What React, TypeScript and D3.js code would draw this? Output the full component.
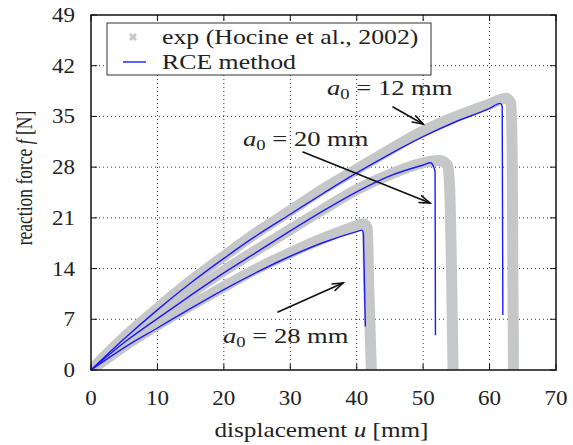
import React from "react";
import * as d3 from "d3";

const xTicks = [0, 10, 20, 30, 40, 50, 60, 70];
const yTicks = [0, 7, 14, 21, 28, 35, 42, 49];

// RCE method (blue) — displacement u [mm], force f [N]
const rce12U = [0, 5, 10, 15, 20, 25, 30, 35, 40, 45, 50, 55, 60, 61.6, 61.9, 62.0];
const rce12F = [0, 4.3, 8.3, 12.0, 15.4, 18.6, 21.5, 24.4, 27.2, 29.8, 32.2, 34.3, 36.1, 36.8, 36.4, 7.6];
const rce20U = [0, 5, 10, 15, 20, 25, 30, 35, 40, 45, 50, 51.1, 51.6, 51.8, 51.85];
const rce20F = [0, 3.8, 7.1, 10.3, 13.4, 16.3, 19.2, 22.0, 24.6, 26.8, 28.3, 28.6, 28.0, 27.3, 4.8];
const rce28U = [0, 5, 10, 15, 20, 25, 30, 35, 40, 40.8, 41.0, 41.05, 41.3];
const rce28F = [0, 3.1, 5.8, 8.5, 11.1, 13.5, 15.7, 17.6, 19.1, 19.3, 18.9, 17.0, 6.0];

// Experiment (gray)
const exp12U = [0, 5, 10, 15, 20, 25, 30, 35, 40, 45, 50, 55, 60, 62.5, 63.2, 63.4, 63.5, 63.6];
const exp12F = [0, 4.5, 8.5, 12.3, 15.7, 19.0, 22.0, 25.0, 27.7, 30.4, 33.0, 35.0, 36.7, 37.5, 36.8, 30, 15, 0];
const exp20U = [0, 5, 10, 15, 20, 25, 30, 35, 40, 45, 50, 52.5, 53.7, 54.0, 54.3, 54.5];
const exp20F = [0, 3.9, 7.3, 10.6, 13.7, 16.6, 19.4, 22.2, 24.9, 27.0, 28.6, 28.9, 28.2, 25, 12, 0];
const exp28U = [0, 5, 10, 15, 20, 25, 30, 35, 40, 41.0, 41.6, 41.8, 42.2];
const exp28F = [0, 3.3, 6.2, 8.9, 11.5, 14.0, 16.2, 18.2, 19.9, 20.2, 19.6, 12, 0];

const W = 573, H = 445;
const L = 91, R = 556, T = 15, B = 370;
const FONT = "'Liberation Serif', 'Times New Roman', serif";
const FS = 20;
const TXT = "#222";

const x = d3.scaleLinear().domain([0, 70]).range([L, R]);
const y = d3.scaleLinear().domain([0, 49]).range([B, T]);

const line = d3.line<[number, number]>().x(d => x(d[0])).y(d => y(d[1])).curve(d3.curveMonotoneX);
const zip = (u: number[], f: number[]) => u.map((v, i) => [v, f[i]] as [number, number]);

function Txt({ x0, y0, k, anchor, size, children }: any) {
  return (
    <text transform={`translate(${x0},${y0}) scale(${k},1)`} textAnchor={anchor || "start"}
      fontFamily={FONT} fontSize={size || FS} fill={TXT}>
      {children}
    </text>
  );
}

function Arrow({ x1, y1, x2, y2 }: { x1: number; y1: number; x2: number; y2: number }) {
  const a = Math.atan2(y2 - y1, x2 - x1);
  const hl = 11, ha = 0.33;
  const p1 = [x2 - hl * Math.cos(a - ha), y2 - hl * Math.sin(a - ha)];
  const p2 = [x2 - hl * Math.cos(a + ha), y2 - hl * Math.sin(a + ha)];
  return (
    <g stroke="#111" strokeWidth={1.6} fill="none" strokeLinecap="round">
      <line x1={x1} y1={y1} x2={x2} y2={y2} />
      <polyline points={`${p1[0]},${p1[1]} ${x2},${y2} ${p2[0]},${p2[1]}`} />
    </g>
  );
}

function Label({ x0, y0, val }: { x0: number; y0: number; val: string }) {
  return (
    <Txt x0={x0} y0={y0} k={1.33}>
      <tspan fontStyle="italic">a</tspan>
      <tspan fontSize={14} dy={4}>0</tspan>
      <tspan dy={-4}>{` = ${val} mm`}</tspan>
    </Txt>
  );
}

export default function App() {
  const grays = [zip(exp12U, exp12F), zip(exp20U, exp20F), zip(exp28U, exp28F)];
  const blues = [zip(rce12U, rce12F), zip(rce20U, rce20F), zip(rce28U, rce28F)];
  return (
    <svg width={W} height={H} style={{ position: "absolute", left: 0, top: 0, background: "#fff" }}>
      <defs>
        <clipPath id="plot">
          <rect x={L} y={T} width={R - L} height={B - T} />
        </clipPath>
      </defs>
      {/* grid */}
      <g stroke="#333" strokeWidth={1} strokeDasharray="1,3">
        {xTicks.slice(1, -1).map(t => (
          <line key={"gx" + t} x1={x(t)} x2={x(t)} y1={T} y2={B} />
        ))}
        {yTicks.slice(1, -1).map(t => (
          <line key={"gy" + t} x1={L} x2={R} y1={y(t)} y2={y(t)} />
        ))}
      </g>
      {/* data */}
      <g clipPath="url(#plot)">
        {grays.map((d, i) => (
          <path key={"g" + i} d={line(d) || ""} fill="none" stroke="#c6c7c8" strokeWidth={11}
            strokeLinejoin="round" strokeLinecap="round" />
        ))}
        {blues.map((d, i) => (
          <path key={"b" + i} d={line(d) || ""} fill="none" stroke="#1a1aff" strokeWidth={1.4}
            strokeLinejoin="round" />
        ))}
      </g>
      {/* ticks */}
      <g stroke="#111" strokeWidth={1}>
        {xTicks.map(t => (
          <g key={"tx" + t}>
            <line x1={x(t)} x2={x(t)} y1={B} y2={B - 6} />
            <line x1={x(t)} x2={x(t)} y1={T} y2={T + 6} />
          </g>
        ))}
        {yTicks.map(t => (
          <g key={"ty" + t}>
            <line x1={L} x2={L + 6} y1={y(t)} y2={y(t)} />
            <line x1={R} x2={R - 6} y1={y(t)} y2={y(t)} />
          </g>
        ))}
      </g>
      <rect x={L} y={T} width={R - L} height={B - T} fill="none" stroke="#111" strokeWidth={1.5} />
      {/* tick labels */}
      {xTicks.map(t => (
        <Txt key={"lx" + t} x0={x(t)} y0={405} k={1.15} anchor="middle">{t}</Txt>
      ))}
      {yTicks.map(t => (
        <Txt key={"ly" + t} x0={75} y0={y(t) + 7} k={1.15} anchor="end">{t}</Txt>
      ))}
      {/* axis titles */}
      <Txt x0={(L + R) / 2 - 2} y0={437} k={1.26} anchor="middle">
        displacement <tspan fontStyle="italic">u</tspan> [mm]
      </Txt>
      <text transform={`translate(32,178) rotate(-90) scale(1,1.3)`} textAnchor="middle"
        fontFamily={FONT} fontSize={17.5} fill={TXT}>
        reaction force <tspan fontStyle="italic">f</tspan> [N]
      </text>
      {/* legend */}
      <rect x={107} y={23} width={324} height={52} fill="#fff" stroke="#333" strokeWidth={1} />
      <g stroke="#c6c7c8" strokeWidth={2.6}>
        <line x1={130} y1={34} x2={136} y2={40} />
        <line x1={136} y1={34} x2={130} y2={40} />
      </g>
      <line x1={123} x2={146} y1={62} y2={62} stroke="#1a1aff" strokeWidth={1.4} />
      <Txt x0={162} y0={44} k={1.29}>exp (Hocine et al., 2002)</Txt>
      <Txt x0={162} y0={69} k={1.29}>RCE method</Txt>
      {/* annotations */}
      <Label x0={327} y0={95} val="12" />
      <Arrow x1={393} y1={107} x2={423} y2={124} />
      <Label x0={243} y0={146} val="20" />
      <Arrow x1={303} y1={152} x2={430} y2={203} />
      <Label x0={223} y0={343} val="28" />
      <Arrow x1={278} y1={312} x2={343} y2={283} />
    </svg>
  );
}
